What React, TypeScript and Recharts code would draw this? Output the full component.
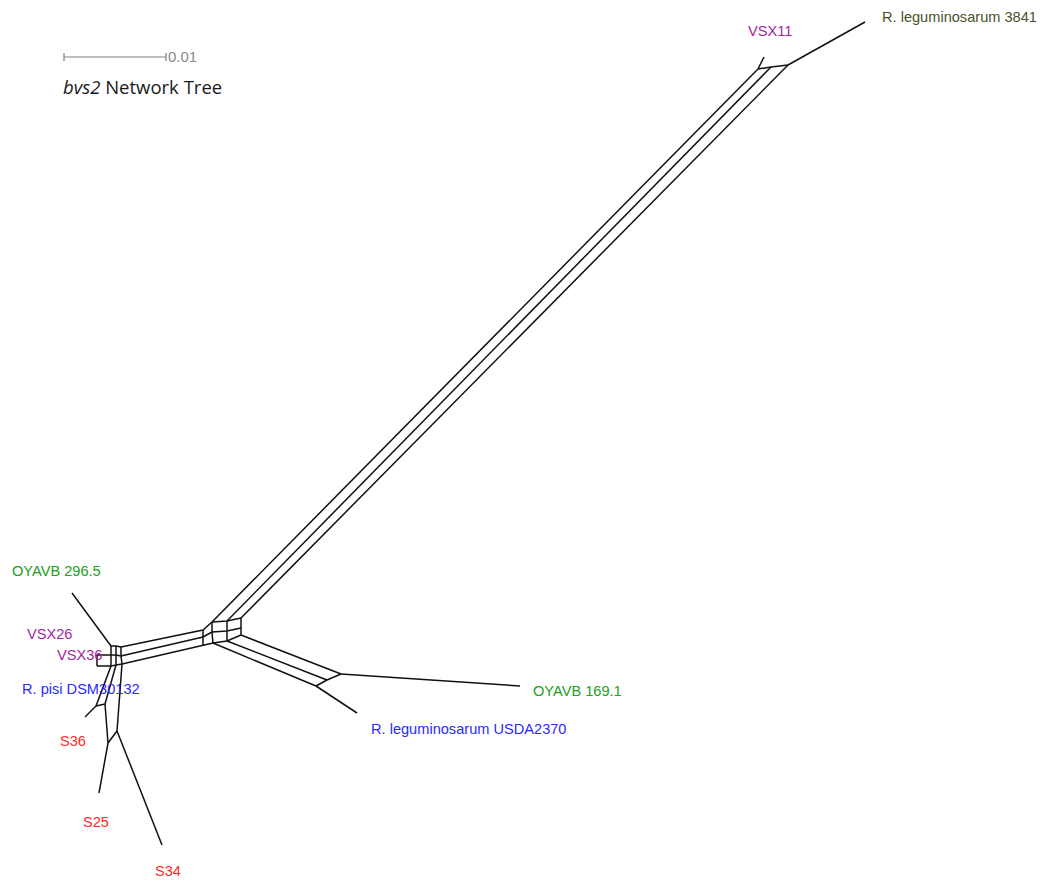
import React from 'react';
import {
  ComposedChart,
  Line,
  Scatter,
  XAxis,
  YAxis,
  ReferenceLine,
} from 'recharts';

type Pt = [number, number];

// network layout space: x to the right, y downwards
const WIDTH = 1049;
const HEIGHT = 888;

// long three-line band joining the hub to the 3841 / VSX11 end
const topBand: Pt[][] = [
  [[212, 622], [758, 69]],
  [[227, 621], [771, 67]],
  [[241, 618], [788, 65]],
  [[758, 69], [771, 67], [788, 65]],
];

// central box where the three bands meet
const hubBlock: Pt[][] = [
  [[212, 622], [227, 621], [241, 618]],
  [[212, 632], [227, 631], [241, 628]],
  [[213, 643], [227, 641], [241, 635]],
  [[212, 622], [212, 632], [213, 643]],
  [[227, 621], [227, 631], [227, 641]],
  [[241, 618], [241, 628], [241, 635]],
];

// band running left to the VSX / pisi / S cluster
const leftBand: Pt[][] = [
  [[121, 647], [203, 630], [212, 622]],
  [[121, 656], [203, 637], [212, 632]],
  [[122, 664], [213, 643]],
  [[203, 630], [203, 646]],
];

// band running down-right to the OYAVB 169.1 / USDA2370 split
const rightBand: Pt[][] = [
  [[241, 635], [341, 674]],
  [[227, 641], [327, 680]],
  [[213, 643], [316, 686]],
  [[316, 686], [327, 680], [341, 674]],
];

// small boxes of the lower-left cluster
const clusterGrid: Pt[][] = [
  [[111, 646], [116, 646], [121, 647]],
  [[97, 655], [111, 655], [116, 655], [121, 656]],
  [[97, 666], [111, 666], [116, 665], [122, 664]],
  [[111, 646], [111, 655], [111, 666]],
  [[116, 646], [116, 655], [116, 665]],
  [[121, 647], [121, 656], [122, 664]],
  [[97, 655], [97, 666]],
  [[111, 666], [96, 706]],
  [[116, 665], [105, 704]],
  [[96, 706], [105, 704]],
  [[105, 704], [108, 743]],
  [[122, 664], [117, 731]],
  [[108, 743], [117, 731]],
];

// terminal edges out to the taxa
const leafEdges: Pt[][] = [
  [[788, 65], [865, 22]],
  [[758, 69], [764, 57]],
  [[341, 674], [520, 686]],
  [[316, 686], [357, 713]],
  [[111, 646], [72, 593]],
  [[96, 706], [85, 717]],
  [[108, 743], [99, 793]],
  [[117, 731], [162, 845]],
];

const taxaNames = [
  'R. leguminosarum 3841',
  'VSX11',
  'OYAVB 296.5',
  'VSX26',
  'VSX36',
  'R. pisi DSM30132',
  'S36',
  'S25',
  'S34',
  'OYAVB 169.1',
  'R. leguminosarum USDA2370',
];
// label anchors (left edge, baseline)
const taxaAnchors: Pt[] = [
  [882, 22],
  [748, 36],
  [12, 576],
  [27, 639],
  [57, 660],
  [22, 694],
  [60, 746],
  [83, 827],
  [155, 876],
  [533, 696],
  [371, 734],
];
const taxaGroups = ['olive', 'purple', 'green', 'purple', 'purple', 'blue', 'red', 'red', 'red', 'green', 'blue'];

const groupColors: Record<string, string> = {
  olive: '#4f4f2a',
  purple: '#a21fa2',
  green: '#22a022',
  blue: '#2a2aff',
  red: '#ff2a2a',
};

const edges = [...topBand, ...hubBlock, ...leftBand, ...rightBand, ...clusterGrid, ...leafEdges].map((poly) =>
  poly.map(([x, y]) => ({ x, y })),
);

const taxa = taxaNames.map((name, i) => ({
  name,
  x: taxaAnchors[i][0],
  y: taxaAnchors[i][1],
  color: groupColors[taxaGroups[i]],
}));

const TaxonLabel = (props: any) => {
  const { cx, cy, payload } = props;
  return (
    <text
      x={cx}
      y={cy}
      fill={payload.color}
      fontSize={14.6}
      fontFamily="'Liberation Sans', Arial, sans-serif"
    >
      {payload.name}
    </text>
  );
};

const SCALE_X0 = 64;
const SCALE_X1 = 166;
const SCALE_Y = 57;

export default function App() {
  return (
    <div style={{ position: 'absolute', left: 0, top: 0, width: WIDTH, height: HEIGHT, background: '#fff' }}>
      <ComposedChart width={WIDTH} height={HEIGHT} margin={{ top: 0, right: 0, bottom: 0, left: 0 }}>
        <XAxis type="number" dataKey="x" domain={[0, WIDTH]} hide allowDataOverflow />
        <YAxis type="number" dataKey="y" domain={[0, HEIGHT]} reversed hide allowDataOverflow />

        <ReferenceLine
          segment={[{ x: SCALE_X0, y: SCALE_Y }, { x: SCALE_X1, y: SCALE_Y }]}
          stroke="#808080"
          strokeWidth={1.2}
          ifOverflow="visible"
        />
        <ReferenceLine
          segment={[{ x: SCALE_X0, y: SCALE_Y - 4 }, { x: SCALE_X0, y: SCALE_Y + 4 }]}
          stroke="#808080"
          strokeWidth={1.2}
          ifOverflow="visible"
        />
        <ReferenceLine
          segment={[{ x: SCALE_X1, y: SCALE_Y - 4 }, { x: SCALE_X1, y: SCALE_Y + 4 }]}
          stroke="#808080"
          strokeWidth={1.2}
          ifOverflow="visible"
          label={{
            value: '0.01',
            position: 'right',
            fill: '#8a8a8a',
            fontSize: 15,
            fontFamily: "'Liberation Sans', Arial, sans-serif",
            offset: 2,
          }}
        />

        {edges.map((pts, i) => (
          <Line
            key={i}
            data={pts}
            dataKey="y"
            type="linear"
            stroke="#111"
            strokeWidth={1.5}
            dot={false}
            activeDot={false}
            isAnimationActive={false}
          />
        ))}

        <Scatter data={taxa} dataKey="y" shape={TaxonLabel} isAnimationActive={false} />
      </ComposedChart>

      <div
        style={{
          position: 'absolute',
          left: 63,
          top: 74,
          fontFamily: "'Open Sans', sans-serif",
          fontSize: 18.5,
          color: '#1a1a1a',
          whiteSpace: 'nowrap',
        }}
      >
        <i>bvs2</i> Network Tree
      </div>
    </div>
  );
}
